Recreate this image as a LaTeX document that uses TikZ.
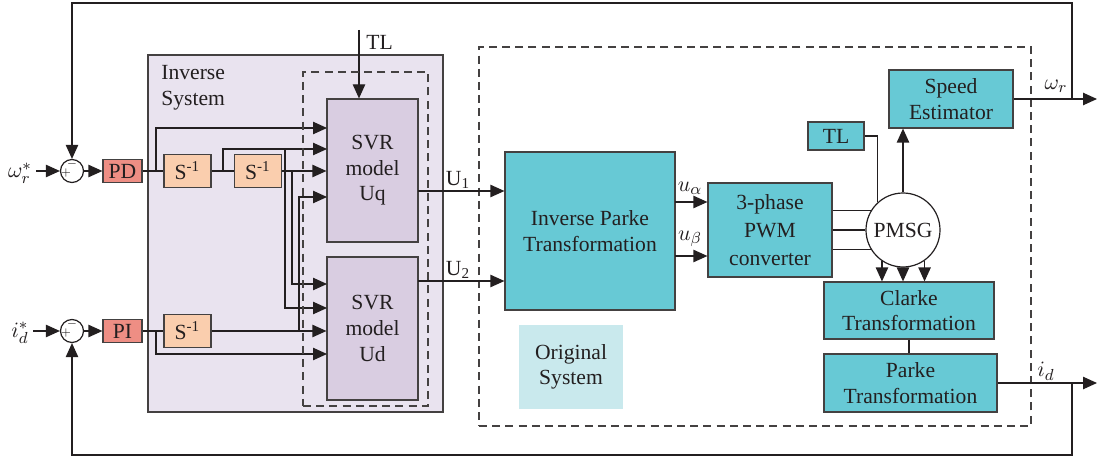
\documentclass[tikz,border=0pt]{standalone}
\usepackage{fontspec}
\setmainfont{Liberation Serif}
\usetikzlibrary{arrows.meta}
\definecolor{ln}{RGB}{35,31,32}
\definecolor{teal}{RGB}{103,201,213}
\definecolor{invfill}{RGB}{233,227,239}
\definecolor{svrfill}{RGB}{217,205,225}
\definecolor{sfill}{RGB}{250,206,174}
\definecolor{pfill}{RGB}{238,142,132}
\definecolor{origfill}{RGB}{201,233,237}
\begin{document}
\begin{tikzpicture}[x=0.5pt,y=-0.5pt,
  font=\fontsize{10.8}{12.8}\selectfont, text=ln,
  wire/.style={draw=ln, line width=0.6pt},
  arr/.style={wire, -{Triangle[length=7pt,width=6.2pt]}},
  box/.style={draw=ln!85, line width=0.6pt, inner sep=0pt, align=center, text=ln},
  dbox/.style={draw=ln!85, line width=0.6pt, dash pattern=on 4pt off 2.6pt, inner sep=0pt},
  svr/.style={box, fill=svrfill, minimum width=45.5pt, minimum height=71.5pt},
  tbox/.style={box, fill=teal},
  sbox/.style={box, fill=sfill, minimum width=23.5pt, minimum height=16.5pt},
  pbox/.style={box, fill=pfill, minimum width=19.5pt, minimum height=11.5pt},
  sumc/.style={circle, draw=ln, line width=0.6pt, fill=white, minimum size=11.5pt, inner sep=0pt},
  sgn/.style={inner sep=0pt, font=\fontsize{5.5}{5.5}\selectfont},
  lbl/.style={inner sep=0pt}]
\useasboundingbox (0,0) rectangle (1098,460);

% Inverse system block
\node[box, fill=invfill, minimum width=147.5pt, minimum height=178.5pt] (inv) at (295.5,233.5) {};
\node[lbl, anchor=north west, align=left] (invlbl) at (161,65) {Inverse\\System};
\node[svr] (uq) at (372.5,170.5) {SVR\\model\\Uq};
\node[svr] (ud) at (372.5,328.5) {SVR\\model\\Ud};

% summing junctions and controllers
\node[sumc] (sum1) at (72,171) {};
\node[sumc] (sum2) at (72,331) {};
\node[sgn] (p1) at (66,173) {$+$};
\node[sgn] (m1) at (72,164) {$-$};
\node[sgn] (p2) at (66,333) {$+$};
\node[sgn] (m2) at (72,324) {$-$};
\node[pbox] (pd) at (122.5,171) {PD};
\node[pbox] (pi) at (122.5,331) {PI};
\node[sbox] (s1) at (187.5,171) {S\textsuperscript{-1}};
\node[sbox] (s2) at (258,171) {S\textsuperscript{-1}};
\node[sbox] (s3) at (187.5,331) {S\textsuperscript{-1}};
\node[lbl] (wref) at (20,173) {$\omega_r^*$};
\node[lbl] (idref) at (20,333) {$i_d^*$};

% coordinates of branch points and inputs
\coordinate (b1) at (156,171);
\coordinate (b2) at (223,171);
\coordinate (b3) at (285,149);
\coordinate (b4) at (292,171);
\coordinate (b5) at (299,331);
\coordinate (b6) at (156,331);
\coordinate (uq1) at (327,128);
\coordinate (uq2) at (327,149);
\coordinate (uq4) at (327,197);
\coordinate (ud1) at (327,284);
\coordinate (ud2) at (327,308);
\coordinate (ud4) at (327,354);

\draw[arr] (wref.east) ++(4,-2) coordinate (w0) -- (sum1.west);
\draw[arr] (idref.east) ++(4,-2) coordinate (i0) -- (sum2.west);
\draw[arr] (sum1) -- (pd);
\draw[arr] (sum2) -- (pi);
\draw[wire] (pd) -- (s1);
\draw[wire] (s1) -- (s2);
\draw[wire] (pi) -- (s3);
\draw[arr] (s2) -- (s2 -| uq.west);
\draw[arr] (s3) -- (s3 -| ud.west);
\draw[arr] (b1) |- (uq1);
\draw[arr] (b2) |- (uq2);
\draw[arr] (b3) |- (ud2);
\draw[arr] (b4) |- (ud1);
\draw[arr] (b5) |- (uq4);
\draw[arr] (b6) |- (ud4);

% TL input on top
\coordinate (tltop) at (359,30);
\draw[arr] (tltop) -- (tltop |- uq.north);
\node[lbl, anchor=west] (tllbl) at (366,42) {TL};

% inner dashed box
\node[dbox, minimum width=62.5pt, minimum height=167pt] (dashin) at (365.5,239) {};

% original system
\node[dbox, minimum width=276pt, minimum height=189.5pt] (dashout) at (755,236.5) {};
\node[tbox, minimum width=85pt, minimum height=79pt] (ip) at (590,231) {Inverse Parke\\Transformation};
\node[tbox, minimum width=62pt, minimum height=47pt, font=\fontsize{10.8}{14}\selectfont] (pwm) at (770,230) {3-phase\\PWM\\converter};
\node[circle, draw=ln, line width=0.6pt, fill=white, minimum size=37pt, inner sep=0pt] (pmsg) at (903,230) {PMSG};
\node[tbox, minimum width=62pt, minimum height=29pt] (se) at (951,99) {Speed\\Estimator};
\node[tbox, minimum width=28pt, minimum height=14pt] (tl) at (836,136) {TL};
\node[tbox, minimum width=85pt, minimum height=28.5pt] (clarke) at (909,310.5) {Clarke\\Transformation};
\node[tbox, minimum width=86.5pt, minimum height=29pt] (parke) at (910.5,383) {Parke\\Transformation};
\node[box, draw=none, fill=origfill, minimum width=52pt, minimum height=42pt] (orig) at (571,367) {Original\\System};

% U1, U2
\coordinate (u1a) at (418,191);
\coordinate (u2a) at (418,281);
\draw[arr] (u1a) -- (u1a -| ip.west);
\draw[arr] (u2a) -- (u2a -| ip.west);
\node[lbl] (u1l) at (458,180) {U\textsubscript{1}};
\node[lbl] (u2l) at (458,270) {U\textsubscript{2}};

% u alpha, u beta
\coordinate (ua) at (675,202);
\coordinate (ub) at (675,256);
\draw[arr] (ua) -- (ua -| pwm.west);
\draw[arr] (ub) -- (ub -| pwm.west);
\node[lbl] (ual) at (690,188) {$u_\alpha$};
\node[lbl] (ubl) at (690,239) {$u_\beta$};

% converter to PMSG
\draw[wire] (pmsg.149) -- (pmsg.149 -| pwm.east);
\draw[wire] (pmsg.west) -- (pmsg.west -| pwm.east);
\draw[wire] (pmsg.211) -- (pmsg.211 -| pwm.east);
% PMSG to Clarke
\draw[arr] (pmsg.-124.6) -- (pmsg.-124.6 |- clarke.north);
\draw[arr] (pmsg.south) -- (pmsg.south |- clarke.north);
\draw[arr] (pmsg.-55.4) -- (pmsg.-55.4 |- clarke.north);
\draw[wire] (clarke.south) -- (clarke.south |- parke.north);
% TL to PMSG
\draw[wire] (tl.east) -| (pmsg.132.5);
% PMSG to speed estimator
\draw[arr] (pmsg.north) -- (pmsg.north |- se.south);

% outputs and feedback
\coordinate (wout) at (1097,99);
\coordinate (wfb) at (1072,99);
\coordinate (wtop) at (1072,3);
\draw[arr] (se.east) -- (wout);
\draw[arr] (wfb) -- (wtop) -| (sum1.north);
\node[lbl] (wrl) at (1056,86) {$\omega_r$};

\coordinate (idout) at (1097,383);
\coordinate (ifb) at (1072,383);
\coordinate (ibot) at (1072,455);
\draw[arr] (parke.east) -- (idout);
\draw[arr] (ifb) -- (ibot) -| (sum2.south);
\node[lbl] (idl) at (1046,371) {$i_d$};
\end{tikzpicture}
\end{document}
